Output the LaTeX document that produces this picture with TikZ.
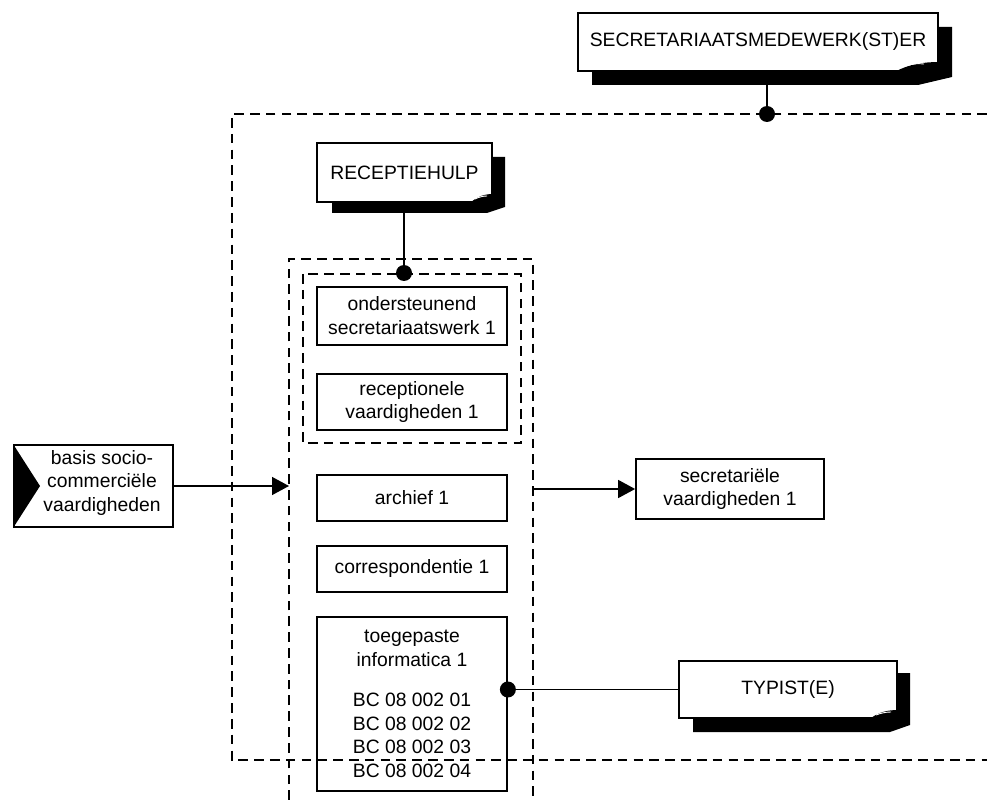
\documentclass[tikz,border=0pt]{standalone}
\usepackage{fontspec}
\setmainfont{Liberation Sans}
\usetikzlibrary{calc}
\usetikzlibrary{positioning}
\usetikzlibrary{arrows.meta}

\tikzset{
  unit/.style={draw, line width=1pt, align=center, inner sep=0pt, font=\fontsize{11}{13.6}\selectfont},
  role/.style={unit, fill=white},
  frame/.style={line width=1pt, dash pattern=on 5.5pt off 3.5pt},
  knot/.style={circle, fill=black, inner sep=0pt, minimum size=0.32cm},
  link/.style={line width=0.8pt},
  flow/.style={line width=0.8pt, -{Triangle[length=0.34cm,width=0.36cm]}},
}

\begin{document}
\begin{tikzpicture}[x=0.02cm, y=-0.02cm]
\clip (0,0) rectangle (987,800);

% outer frame, open to the right
\draw[frame] (987,114) -- (232,114) -- (232,760) -- (987,760);
% column of units
\draw[frame] (289,800) -- (289,259) -- (533,259) -- (533,800);
% block of the first two units
\draw[frame] (303,274) rectangle (521,443);

% role: secretariaatsmedewerk(st)er
\fill (592,71) -- (592,85) -- (918,85) -- (952,77) -- (952,27) -- (938,27) -- cycle;
\node[role, minimum width=7.2cm, minimum height=1.16cm] (secr) at (758,42) {SECRETARIAATSMEDEWERK(ST)ER};
\fill (895,72) .. controls (908,64) and (925,62) .. (939,62) -- (939,72) -- cycle;
\draw[white, line width=0.5pt] (903,67) .. controls (910,64) and (917,63) .. (924,64);

% role: receptiehulp
\fill (332,202) -- (332,213) -- (487,213) -- (505,207) -- (505,157) -- (492,157) -- cycle;
\node[role, minimum width=3.5cm, minimum height=1.18cm] (recep) at (404.5,172.5) {RECEPTIEHULP};
\fill (470,203) .. controls (478,196) and (485,194) .. (493,194) -- (493,203) -- cycle;
\draw[white, line width=0.5pt] (475,199) .. controls (479,197) and (483,196) .. (487,196);

% role: typist(e)
\fill (693,718) -- (693,732) -- (890,732) -- (910,725) -- (910,673) -- (897,673) -- cycle;
\node[role, minimum width=4.36cm, minimum height=1.14cm] (typ) at (788,689.5) {TYPIST(E)};
\fill (870,719) .. controls (878,712) and (888,710) .. (898,710) -- (898,719) -- cycle;
\draw[white, line width=0.5pt] (876,715) .. controls (881,713) and (886,712) .. (891,712);

% units
\node[unit, minimum width=3.8cm, minimum height=1.16cm] (onder) at (412,316) {ondersteunend\\secretariaatswerk 1};
\node[unit, minimum width=3.8cm, minimum height=1.12cm] (recvaard) at (412,402) {receptionele\\vaardigheden 1};
\node[unit, minimum width=3.8cm, minimum height=0.92cm] (archief) at (412,498) {archief 1};
\node[unit, minimum width=3.8cm, minimum height=0.92cm] (corr) at (412,569) {correspondentie 1};
\node[unit, minimum width=3.8cm, minimum height=3.48cm] (toeg) at (412,704) {toegepaste\\informatica 1\\[9pt]BC 08 002 01\\BC 08 002 02\\BC 08 002 03\\BC 08 002 04};

% in and out
\node[unit, minimum width=3.18cm, minimum height=1.64cm] (basis) at (93.5,486) {};
\fill (basis.north west) -- (40,486) -- (basis.south west) -- cycle;
\node[align=center, inner sep=0pt, font=\fontsize{11}{13.2}\selectfont] (basistxt) at (102,483) {basis socio-\\commerciële\\vaardigheden};
\node[unit, minimum width=3.76cm, minimum height=1.2cm] (secvaard) at (730,489) {secretariële\\vaardigheden 1};

\coordinate (colin) at (289,486);
\coordinate (colout) at (533,489);
\draw[flow] (basis.east) -- (colin);
\draw[flow] (colout) -- (secvaard.west);

% attachment points
\node[knot] (k1) at (767,114) {};
\node[knot] (k2) at (404,273) {};
\node[knot] (k3) at (toeg.east |- typ.west) {};
\draw[link] (k1) -- (k1 |- secr.south);
\draw[link] (k2) -- (k2 |- recep.south);
\draw[link] (k3) -- (typ.west);

\end{tikzpicture}
\end{document}
